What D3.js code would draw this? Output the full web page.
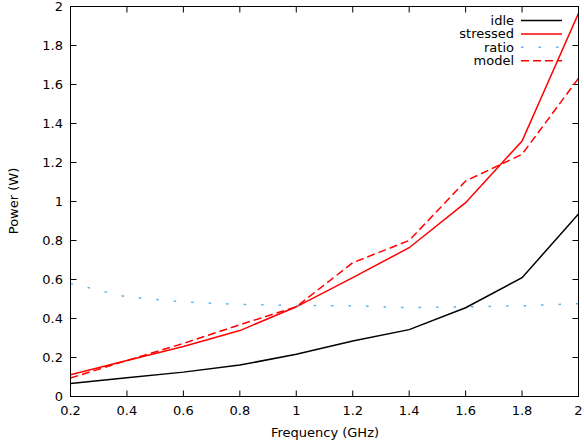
<!DOCTYPE html>
<html>
<head>
<meta charset="utf-8">
<script src="https://cdn.jsdelivr.net/npm/d3@7"></script>
<style>
  body { margin: 0; background: #fff; }
  svg text { font-family: "DejaVu Sans", sans-serif; font-size: 13px; fill: #000; }
</style>
</head>
<body>
<svg id="chart" width="584" height="447"></svg>
<script>
const freqs    = [0.2, 0.4, 0.6, 0.8, 1.0, 1.2, 1.4, 1.6, 1.8, 2.0];
const idle     = [0.067, 0.096, 0.125, 0.161, 0.217, 0.285, 0.343, 0.455, 0.609, 0.936];
const stressed = [0.112, 0.185, 0.256, 0.338, 0.460, 0.610, 0.763, 0.994, 1.31, 1.965];
const ratio    = [0.58, 0.51, 0.485, 0.472, 0.467, 0.465, 0.455, 0.46, 0.465, 0.476];
const model    = [0.095, 0.185, 0.272, 0.368, 0.460, 0.686, 0.800, 1.105, 1.242, 1.632];
const xTicks   = [0.2, 0.4, 0.6, 0.8, 1.0, 1.2, 1.4, 1.6, 1.8, 2.0];
const yTicks   = [0, 0.2, 0.4, 0.6, 0.8, 1.0, 1.2, 1.4, 1.6, 1.8, 2.0];

const series = [
    { name: "idle",     values: idle,     color: "#000000", dash: null },
    { name: "stressed", values: stressed, color: "#ff0000", dash: null },
    { name: "ratio",    values: ratio,    color: "#56b4e9", dash: "2.5,15" },
    { name: "model",    values: model,    color: "#ff0000", dash: "8,4" }
];

const svg = d3.select("#chart");
const plotL = 70.5, plotR = 578.5, plotT = 6.5, plotB = 396.5;

const x = d3.scaleLinear().domain([0.2, 2]).range([plotL, plotR]);
const y = d3.scaleLinear().domain([0, 2]).range([plotB, plotT]);
const fmt = d => String(+d.toFixed(1));
const tickLen = 6;

// ticks (gnuplot style: inward, mirrored)
const g = svg.append("g");
xTicks.forEach(t => {
    g.append("line").attr("x1", x(t)).attr("x2", x(t)).attr("y1", plotB).attr("y2", plotB - tickLen).attr("stroke", "#000");
    g.append("line").attr("x1", x(t)).attr("x2", x(t)).attr("y1", plotT).attr("y2", plotT + tickLen).attr("stroke", "#000");
    g.append("text").attr("x", x(t)).attr("y", 415).attr("text-anchor", "middle").text(fmt(t));
});
yTicks.forEach(t => {
    g.append("line").attr("x1", plotL).attr("x2", plotL + tickLen).attr("y1", y(t)).attr("y2", y(t)).attr("stroke", "#000");
    g.append("line").attr("x1", plotR).attr("x2", plotR - tickLen).attr("y1", y(t)).attr("y2", y(t)).attr("stroke", "#000");
    g.append("text").attr("x", 63).attr("y", y(t) + 4.5).attr("text-anchor", "end").text(fmt(t));
});

// series lines
const line = d3.line()
    .x((d, i) => x(freqs[i]))
    .y(d => y(d));

svg.append("defs").append("clipPath").attr("id", "clip")
    .append("rect").attr("x", plotL).attr("y", plotT).attr("width", plotR - plotL).attr("height", plotB - plotT);

series.forEach(s => {
    svg.append("path")
        .datum(s.values)
        .attr("clip-path", "url(#clip)")
        .attr("fill", "none")
        .attr("stroke", s.color)
        .attr("stroke-width", 1.5)
        .attr("stroke-dasharray", s.dash)
        .attr("d", line);
});

// border
svg.append("rect")
    .attr("x", plotL).attr("y", plotT)
    .attr("width", plotR - plotL).attr("height", plotB - plotT)
    .attr("fill", "none").attr("stroke", "#000");

// legend
const legend = svg.append("g");
series.forEach((s, i) => {
    const ly = 20.5 + i * 13.4;
    legend.append("text").attr("x", 514).attr("y", ly + 4.5).attr("text-anchor", "end").text(s.name);
    legend.append("line")
        .attr("x1", 521).attr("x2", 562)
        .attr("y1", ly).attr("y2", ly)
        .attr("stroke", s.color)
        .attr("stroke-width", 1.5)
        .attr("stroke-dasharray", s.dash);
});

// axis labels
svg.append("text").attr("x", 325).attr("y", 437).attr("text-anchor", "middle").text("Frequency (GHz)");
svg.append("text")
    .attr("transform", "translate(18,201) rotate(-90)")
    .attr("text-anchor", "middle")
    .text("Power (W)");
</script>
</body>
</html>
